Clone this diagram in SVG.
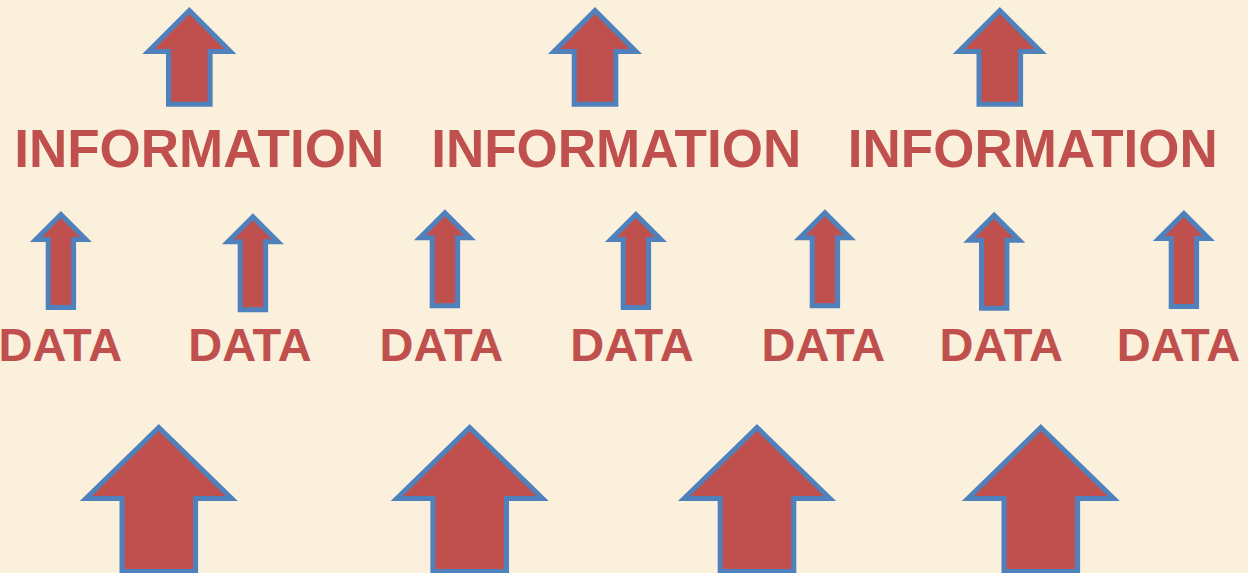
<svg xmlns="http://www.w3.org/2000/svg" xmlns:xlink="http://www.w3.org/1999/xlink" width="1248" height="573" viewBox="0 0 1248 573">
  <style>
    .arrow { fill: #C0504D; stroke: #4F81BD; stroke-width: 5; stroke-linejoin: miter; stroke-miterlimit: 10; }
    .info { font-family: "Liberation Sans", Arial, sans-serif; font-weight: bold; font-size: 53px; fill: #C0504D; text-anchor: middle; }
    .data { font-family: "Liberation Sans", Arial, sans-serif; font-weight: bold; font-size: 47px; fill: #C0504D; text-anchor: middle; }
  </style>
  <defs>
    <path id="arrowTop" d="M0,3.5 L41,44.5 L20.8,44.5 L20.8,97.2 L-20.8,97.2 L-20.8,44.5 L-41,44.5 Z"/>
    <path id="arrowSmall" d="M0,3.5 L25,28.5 L12.7,28.5 L12.7,96.5 L-12.7,96.5 L-12.7,28.5 L-25,28.5 Z"/>
    <path id="arrowBig" d="M0,3.5 L72.9,74.5 L36.8,74.5 L36.8,147.5 L-36.8,147.5 L-36.8,74.5 L-72.9,74.5 Z"/>
  </defs>
  <rect x="0" y="0" width="1248" height="573" fill="#FAF0DC"/>

  <g id="connectors">
    <use xlink:href="#arrowTop" class="arrow" transform="translate(189.3,7)"/>
    <use xlink:href="#arrowTop" class="arrow" transform="translate(595,7)"/>
    <use xlink:href="#arrowTop" class="arrow" transform="translate(999.8,7)"/>

    <use xlink:href="#arrowSmall" class="arrow" transform="translate(60.9,211)"/>
    <use xlink:href="#arrowSmall" class="arrow" transform="translate(252.9,213.3)"/>
    <use xlink:href="#arrowSmall" class="arrow" transform="translate(444.9,209.3)"/>
    <use xlink:href="#arrowSmall" class="arrow" transform="translate(635.9,211)"/>
    <use xlink:href="#arrowSmall" class="arrow" transform="translate(824.9,209.3)"/>
    <use xlink:href="#arrowSmall" class="arrow" transform="translate(994.2,211.7)"/>
    <use xlink:href="#arrowSmall" class="arrow" transform="translate(1183.9,210)"/>

    <use xlink:href="#arrowBig" class="arrow" transform="translate(158.8,424)"/>
    <use xlink:href="#arrowBig" class="arrow" transform="translate(469.7,424)"/>
    <use xlink:href="#arrowBig" class="arrow" transform="translate(757,424)"/>
    <use xlink:href="#arrowBig" class="arrow" transform="translate(1040.8,424)"/>
  </g>

  <g id="info1"><text class="info" x="199.2" y="166.5">INFORMATION</text></g>
  <g id="info2"><text class="info" x="616.2" y="166.5">INFORMATION</text></g>
  <g id="info3"><text class="info" x="1032.8" y="166.5">INFORMATION</text></g>

  <g id="data1"><text class="data" x="60.3" y="361">DATA</text></g>
  <g id="data2"><text class="data" x="250" y="361">DATA</text></g>
  <g id="data3"><text class="data" x="441.3" y="361">DATA</text></g>
  <g id="data4"><text class="data" x="632" y="361">DATA</text></g>
  <g id="data5"><text class="data" x="823.4" y="361">DATA</text></g>
  <g id="data6"><text class="data" x="1001.2" y="361">DATA</text></g>
  <g id="data7"><text class="data" x="1178.5" y="361">DATA</text></g>
</svg>
